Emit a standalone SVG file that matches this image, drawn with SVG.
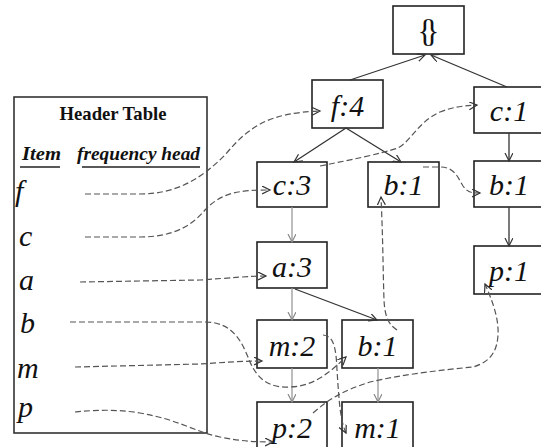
<svg xmlns="http://www.w3.org/2000/svg" width="541" height="447" viewBox="0 0 541 447">
<style>
.box{fill:#fff;stroke:#222;stroke-width:1.6}
.lbl{font-family:"Liberation Serif",serif;font-style:italic;font-size:30px;fill:#111;text-anchor:middle}
.item{font-family:"Liberation Serif",serif;font-style:italic;font-size:30px;fill:#111}
.edge{fill:none;stroke:#333;stroke-width:1.3}
.gedge{fill:none;stroke:#999;stroke-width:1.3}
.link{fill:none;stroke:#555;stroke-width:1.2;stroke-dasharray:6,3}
</style>
<defs>
<marker id="ah" markerWidth="10" markerHeight="10" refX="8" refY="4" orient="auto" markerUnits="userSpaceOnUse">
<path d="M0,0 L8,4 L0,8" fill="none" stroke="#333" stroke-width="1.2"/>
</marker>
<marker id="ahg" markerWidth="10" markerHeight="10" refX="8" refY="4" orient="auto" markerUnits="userSpaceOnUse">
<path d="M0,0 L8,4 L0,8" fill="none" stroke="#888" stroke-width="1.2"/>
</marker>
</defs>
<g id="header-table">
<rect x="14" y="97" width="193" height="336" fill="none" stroke="#333" stroke-width="1.6"/>
<text x="113" y="120" font-family="Liberation Serif,serif" font-weight="bold" font-size="19" text-anchor="middle" textLength="107" lengthAdjust="spacingAndGlyphs" fill="#111">Header Table</text>
<text x="22" y="160" font-family="Liberation Serif,serif" font-weight="bold" font-style="italic" font-size="18" textLength="39" lengthAdjust="spacingAndGlyphs" fill="#111">Item</text>
<text x="77" y="160" font-family="Liberation Serif,serif" font-weight="bold" font-style="italic" font-size="18" textLength="123" lengthAdjust="spacingAndGlyphs" fill="#111">frequency  head</text>
<line x1="20" y1="167" x2="60" y2="167" stroke="#222" stroke-width="1.4"/>
<line x1="82" y1="167" x2="200" y2="167" stroke="#222" stroke-width="1.4"/>
<text class="item" x="15" y="201">f</text>
<text class="item" x="19" y="246">c</text>
<text class="item" x="19" y="290">a</text>
<text class="item" x="20" y="333">b</text>
<text class="item" x="17" y="378">m</text>
<text class="item" x="18" y="417">p</text>
</g>
<g id="node-root"><rect class="box" x="393" y="6" width="71" height="48"/><text x="428.5" y="42" font-family="Liberation Serif,serif" font-size="31" fill="#111" text-anchor="middle" textLength="22" lengthAdjust="spacing">{ }</text></g>
<g id="node-f4"><rect class="box" x="312" y="80" width="71" height="48"/><text class="lbl" x="347.5" y="116">f:4</text></g>
<g id="node-c1"><rect class="box" x="474" y="87" width="72" height="46"/><text class="lbl" x="509" y="121">c:1</text></g>
<g id="node-c3"><rect class="box" x="257" y="162" width="70" height="45"/><text class="lbl" x="292" y="195">c:3</text></g>
<g id="node-b1-mid"><rect class="box" x="368" y="162" width="71" height="45"/><text class="lbl" x="403.5" y="195">b:1</text></g>
<g id="node-b1-right"><rect class="box" x="474" y="161" width="72" height="46"/><text class="lbl" x="509" y="195">b:1</text></g>
<g id="node-a3"><rect class="box" x="257" y="242" width="70" height="46"/><text class="lbl" x="292" y="277">a:3</text></g>
<g id="node-p1"><rect class="box" x="474" y="246" width="72" height="48"/><text class="lbl" x="509" y="281">p:1</text></g>
<g id="node-m2"><rect class="box" x="257" y="320" width="70" height="48"/><text class="lbl" x="292" y="356">m:2</text></g>
<g id="node-b1-low"><rect class="box" x="342" y="320" width="71" height="48"/><text class="lbl" x="377.5" y="356">b:1</text></g>
<g id="node-p2"><rect class="box" x="257" y="402" width="70" height="50"/><text class="lbl" x="292" y="438">p:2</text></g>
<g id="node-m1"><rect class="box" x="342" y="402" width="71" height="50"/><text class="lbl" x="377.5" y="438">m:1</text></g>
<g id="connectors">
<line class="edge" x1="350" y1="80" x2="425" y2="55" marker-end="url(#ah)"/>
<line class="edge" x1="507" y1="87" x2="431" y2="55" marker-end="url(#ah)"/>
<line class="edge" x1="346" y1="128" x2="294" y2="162" marker-end="url(#ah)"/>
<line class="edge" x1="346" y1="128" x2="401" y2="162" marker-end="url(#ah)"/>
<line class="edge" x1="509" y1="133" x2="509" y2="161" marker-end="url(#ah)"/>
<line class="edge" x1="509" y1="207" x2="509" y2="246" marker-end="url(#ah)"/>
<line class="gedge" x1="292" y1="207" x2="292" y2="242" marker-end="url(#ahg)"/>
<line class="gedge" x1="292" y1="288" x2="292" y2="320" marker-end="url(#ahg)"/>
<line class="edge" x1="295" y1="289" x2="377" y2="320" marker-end="url(#ah)"/>
<line class="gedge" x1="292" y1="368" x2="292" y2="402" marker-end="url(#ahg)"/>
<line class="gedge" x1="378" y1="368" x2="378" y2="402" marker-end="url(#ahg)"/>
<path class="link" d="M85,194 L140,194 C175,194 200,180 225,155 C250,125 270,113 320,111" marker-end="url(#ah)"/>
<path class="link" d="M85,237 L140,237 C170,237 190,228 205,210 C222,192 240,190 270,190" marker-end="url(#ah)"/>
<path class="link" d="M320,166 C350,160 380,154 398,148 C412,140 418,122 440,112 C455,106 465,106 477,105" marker-end="url(#ah)"/>
<path class="link" d="M423,167 L440,167 C455,167 458,178 463,186 C468,193 472,193 480,193" marker-end="url(#ah)"/>
<path class="link" d="M80,282 L200,280 C230,278 250,276 266,276" marker-end="url(#ah)"/>
<path class="link" d="M70,322 L205,322 C235,322 243,345 250,362 C258,380 270,388 290,387 C315,386 330,372 346,357" marker-end="url(#ah)"/>
<path class="link" d="M397,330 C390,325 385,320 384,300 C383,270 383,240 381,197" marker-end="url(#ah)"/>
<path class="link" d="M75,367 L200,364 C230,362 245,361 262,361" marker-end="url(#ah)"/>
<path class="link" d="M323,335 C333,336 336,345 337,370 C339,400 340,420 346,433" marker-end="url(#ah)"/>
<path class="link" d="M75,412 C95,410 115,409 140,413 C180,420 195,432 220,437 C240,441 255,442 273,442" marker-end="url(#ah)"/>
<path class="link" d="M313,413 C330,398 345,390 370,382 C400,375 440,370 473,367 C490,362 497,352 498,335 C499,318 492,300 485,284" marker-end="url(#ah)"/>
</g>
</svg>
